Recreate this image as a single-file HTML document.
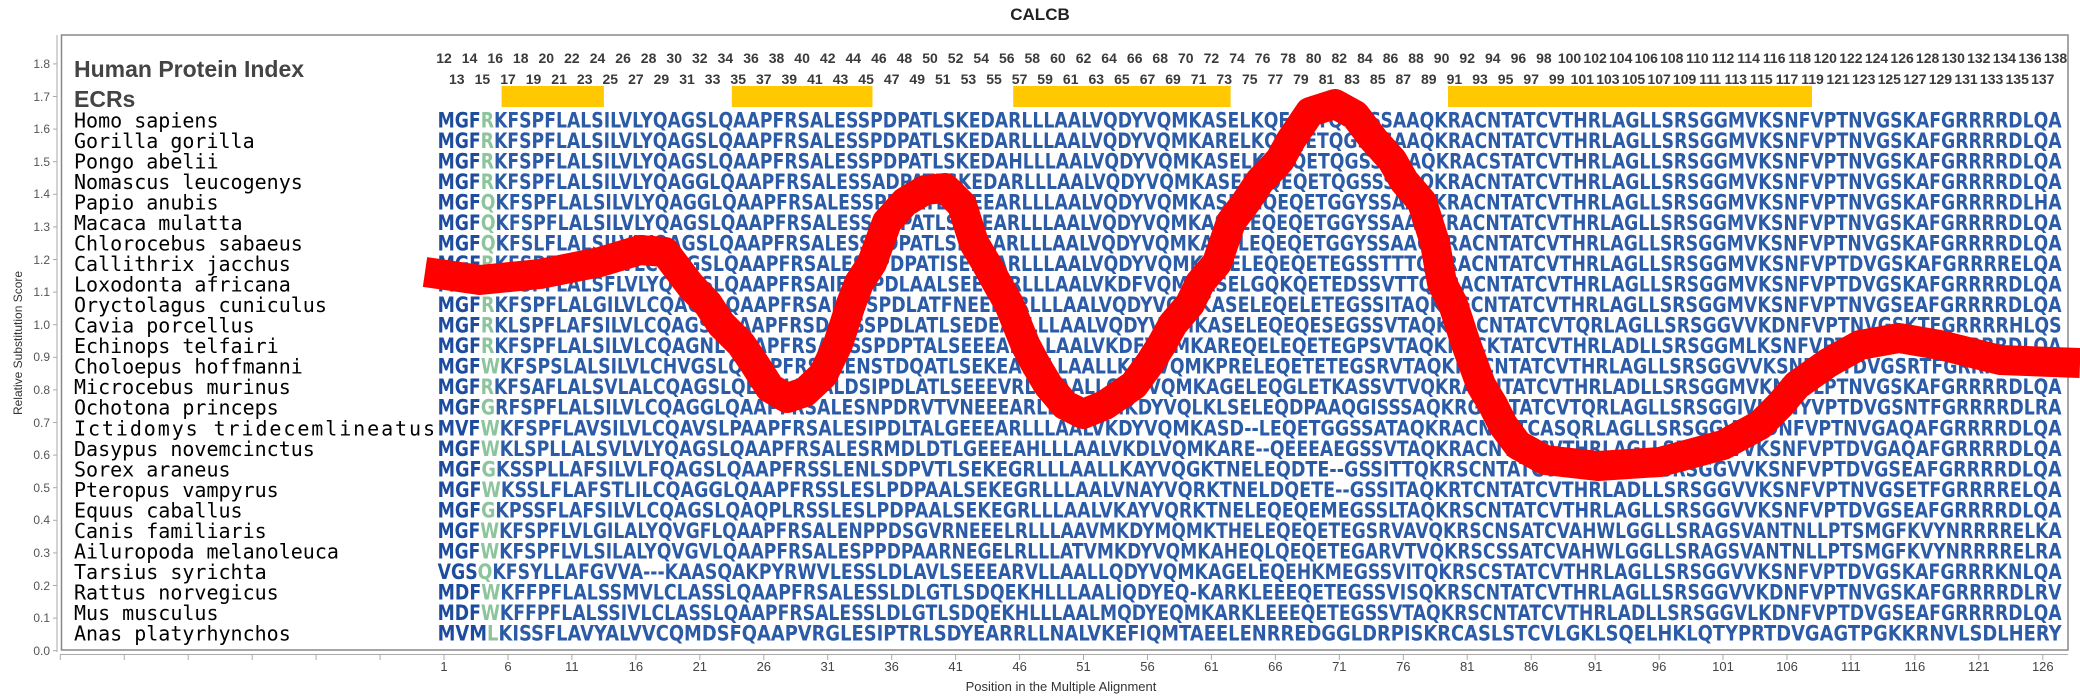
<!DOCTYPE html>
<html><head><meta charset="utf-8"><style>
html,body{margin:0;padding:0;background:#fff;}
svg{display:block;}
.sp{font-family:"DejaVu Sans Mono","Liberation Mono",monospace;font-size:20px;fill:#000;}
.sq{font-family:"DejaVu Sans","Liberation Sans",sans-serif;font-weight:bold;font-size:21px;fill:#2b5ba6;}
.g{fill:#8cc59c;}
.d{fill:#1d4c9e;}
.hi{font-family:"Liberation Sans",sans-serif;font-weight:bold;font-size:14px;fill:#3a3a3a;text-anchor:middle;}
.ax{font-family:"Liberation Sans","DejaVu Sans",sans-serif;font-size:12px;fill:#555;}
.xt{font-family:"Liberation Sans","DejaVu Sans",sans-serif;font-size:13px;fill:#444;text-anchor:middle;}
</style></head><body>
<svg width="2080" height="700" viewBox="0 0 2080 700" xmlns="http://www.w3.org/2000/svg">
<rect x="0" y="0" width="2080" height="700" fill="#fff"/>
<text x="1040" y="20" text-anchor="middle" style="font-family:'Liberation Sans',sans-serif;font-weight:bold;font-size:17px;fill:#222">CALCB</text>
<rect x="61.5" y="35" width="2006.5" height="615" fill="none" stroke="#888" stroke-width="1.5"/>
<line x1="57" y1="35" x2="57" y2="652" stroke="#aaa" stroke-width="1"/>
<line x1="60" y1="654.5" x2="2068" y2="654.5" stroke="#aaa" stroke-width="1"/>
<g stroke="#aaa" stroke-width="1">
<line x1="53" y1="650.7" x2="57" y2="650.7"/><line x1="53" y1="618.1" x2="57" y2="618.1"/><line x1="53" y1="585.5" x2="57" y2="585.5"/><line x1="53" y1="552.9" x2="57" y2="552.9"/><line x1="53" y1="520.3" x2="57" y2="520.3"/><line x1="53" y1="487.7" x2="57" y2="487.7"/><line x1="53" y1="455.1" x2="57" y2="455.1"/><line x1="53" y1="422.5" x2="57" y2="422.5"/><line x1="53" y1="389.9" x2="57" y2="389.9"/><line x1="53" y1="357.3" x2="57" y2="357.3"/><line x1="53" y1="324.7" x2="57" y2="324.7"/><line x1="53" y1="292.1" x2="57" y2="292.1"/><line x1="53" y1="259.5" x2="57" y2="259.5"/><line x1="53" y1="226.9" x2="57" y2="226.9"/><line x1="53" y1="194.3" x2="57" y2="194.3"/><line x1="53" y1="161.7" x2="57" y2="161.7"/><line x1="53" y1="129.1" x2="57" y2="129.1"/><line x1="53" y1="96.5" x2="57" y2="96.5"/><line x1="53" y1="63.9" x2="57" y2="63.9"/>
</g>
<g class="ax" text-anchor="end">
<text x="50" y="655">0.0</text><text x="50" y="622">0.1</text><text x="50" y="590">0.2</text><text x="50" y="557">0.3</text><text x="50" y="524">0.4</text><text x="50" y="492">0.5</text><text x="50" y="459">0.6</text><text x="50" y="427">0.7</text><text x="50" y="394">0.8</text><text x="50" y="361">0.9</text><text x="50" y="329">1.0</text><text x="50" y="296">1.1</text><text x="50" y="264">1.2</text><text x="50" y="231">1.3</text><text x="50" y="198">1.4</text><text x="50" y="166">1.5</text><text x="50" y="133">1.6</text><text x="50" y="101">1.7</text><text x="50" y="68">1.8</text>
</g>
<text transform="translate(22,343) rotate(-90)" class="ax" text-anchor="middle" style="fill:#333">Relative Substitution Score</text>
<g stroke="#aaa" stroke-width="1">
<line x1="60.3" y1="655" x2="60.3" y2="660"/><line x1="124.3" y1="655" x2="124.3" y2="660"/><line x1="188.2" y1="655" x2="188.2" y2="660"/><line x1="252.2" y1="655" x2="252.2" y2="660"/><line x1="316.1" y1="655" x2="316.1" y2="660"/><line x1="380.1" y1="655" x2="380.1" y2="660"/>
<line x1="444" y1="655" x2="444" y2="660"/><line x1="508" y1="655" x2="508" y2="660"/><line x1="571.9" y1="655" x2="571.9" y2="660"/><line x1="635.9" y1="655" x2="635.9" y2="660"/><line x1="699.8" y1="655" x2="699.8" y2="660"/><line x1="763.8" y1="655" x2="763.8" y2="660"/><line x1="827.7" y1="655" x2="827.7" y2="660"/><line x1="891.7" y1="655" x2="891.7" y2="660"/><line x1="955.6" y1="655" x2="955.6" y2="660"/><line x1="1019.6" y1="655" x2="1019.6" y2="660"/><line x1="1083.5" y1="655" x2="1083.5" y2="660"/><line x1="1147.5" y1="655" x2="1147.5" y2="660"/><line x1="1211.4" y1="655" x2="1211.4" y2="660"/><line x1="1275.4" y1="655" x2="1275.4" y2="660"/><line x1="1339.3" y1="655" x2="1339.3" y2="660"/><line x1="1403.3" y1="655" x2="1403.3" y2="660"/><line x1="1467.2" y1="655" x2="1467.2" y2="660"/><line x1="1531.2" y1="655" x2="1531.2" y2="660"/><line x1="1595.1" y1="655" x2="1595.1" y2="660"/><line x1="1659.1" y1="655" x2="1659.1" y2="660"/><line x1="1723" y1="655" x2="1723" y2="660"/><line x1="1787" y1="655" x2="1787" y2="660"/><line x1="1850.9" y1="655" x2="1850.9" y2="660"/><line x1="1914.9" y1="655" x2="1914.9" y2="660"/><line x1="1978.8" y1="655" x2="1978.8" y2="660"/><line x1="2042.8" y1="655" x2="2042.8" y2="660"/>
</g>
<g class="xt">
<text x="444" y="671">1</text><text x="508" y="671">6</text><text x="571.9" y="671">11</text><text x="635.9" y="671">16</text><text x="699.8" y="671">21</text><text x="763.8" y="671">26</text><text x="827.7" y="671">31</text><text x="891.7" y="671">36</text><text x="955.6" y="671">41</text><text x="1019.6" y="671">46</text><text x="1083.5" y="671">51</text><text x="1147.5" y="671">56</text><text x="1211.4" y="671">61</text><text x="1275.4" y="671">66</text><text x="1339.3" y="671">71</text><text x="1403.3" y="671">76</text><text x="1467.2" y="671">81</text><text x="1531.2" y="671">86</text><text x="1595.1" y="671">91</text><text x="1659.1" y="671">96</text><text x="1723" y="671">101</text><text x="1787" y="671">106</text><text x="1850.9" y="671">111</text><text x="1914.9" y="671">116</text><text x="1978.8" y="671">121</text><text x="2042.8" y="671">126</text>
</g>
<text x="1061" y="691" class="ax" text-anchor="middle" style="font-size:13px;fill:#333">Position in the Multiple Alignment</text>
<text x="74" y="77" style="font-family:'Liberation Sans',sans-serif;font-weight:bold;font-size:23px;fill:#444">Human Protein Index</text>
<text x="74" y="107" style="font-family:'Liberation Sans',sans-serif;font-weight:bold;font-size:23px;fill:#444">ECRs</text>
<g class="hi">
<text x="444" y="63">12</text><text x="469.6" y="63">14</text><text x="495.2" y="63">16</text><text x="520.7" y="63">18</text><text x="546.3" y="63">20</text><text x="571.9" y="63">22</text><text x="597.5" y="63">24</text><text x="623.1" y="63">26</text><text x="648.6" y="63">28</text><text x="674.2" y="63">30</text><text x="699.8" y="63">32</text><text x="725.4" y="63">34</text><text x="751" y="63">36</text><text x="776.5" y="63">38</text><text x="802.1" y="63">40</text><text x="827.7" y="63">42</text><text x="853.3" y="63">44</text><text x="878.9" y="63">46</text><text x="904.4" y="63">48</text><text x="930" y="63">50</text><text x="955.6" y="63">52</text><text x="981.2" y="63">54</text><text x="1006.8" y="63">56</text><text x="1032.3" y="63">58</text><text x="1057.9" y="63">60</text><text x="1083.5" y="63">62</text><text x="1109.1" y="63">64</text><text x="1134.7" y="63">66</text><text x="1160.2" y="63">68</text><text x="1185.8" y="63">70</text><text x="1211.4" y="63">72</text><text x="1237" y="63">74</text><text x="1262.6" y="63">76</text><text x="1288.1" y="63">78</text><text x="1313.7" y="63">80</text><text x="1339.3" y="63">82</text><text x="1364.9" y="63">84</text><text x="1390.5" y="63">86</text><text x="1416" y="63">88</text><text x="1441.6" y="63">90</text><text x="1467.2" y="63">92</text><text x="1492.8" y="63">94</text><text x="1518.4" y="63">96</text><text x="1543.9" y="63">98</text><text x="1569.5" y="63">100</text><text x="1595.1" y="63">102</text><text x="1620.7" y="63">104</text><text x="1646.3" y="63">106</text><text x="1671.8" y="63">108</text><text x="1697.4" y="63">110</text><text x="1723" y="63">112</text><text x="1748.6" y="63">114</text><text x="1774.2" y="63">116</text><text x="1799.7" y="63">118</text><text x="1825.3" y="63">120</text><text x="1850.9" y="63">122</text><text x="1876.5" y="63">124</text><text x="1902.1" y="63">126</text><text x="1927.6" y="63">128</text><text x="1953.2" y="63">130</text><text x="1978.8" y="63">132</text><text x="2004.4" y="63">134</text><text x="2030" y="63">136</text><text x="2055.5" y="63">138</text>
<text x="456.8" y="84">13</text><text x="482.4" y="84">15</text><text x="508" y="84">17</text><text x="533.5" y="84">19</text><text x="559.1" y="84">21</text><text x="584.7" y="84">23</text><text x="610.3" y="84">25</text><text x="635.9" y="84">27</text><text x="661.4" y="84">29</text><text x="687" y="84">31</text><text x="712.6" y="84">33</text><text x="738.2" y="84">35</text><text x="763.8" y="84">37</text><text x="789.3" y="84">39</text><text x="814.9" y="84">41</text><text x="840.5" y="84">43</text><text x="866.1" y="84">45</text><text x="891.7" y="84">47</text><text x="917.2" y="84">49</text><text x="942.8" y="84">51</text><text x="968.4" y="84">53</text><text x="994" y="84">55</text><text x="1019.6" y="84">57</text><text x="1045.1" y="84">59</text><text x="1070.7" y="84">61</text><text x="1096.3" y="84">63</text><text x="1121.9" y="84">65</text><text x="1147.5" y="84">67</text><text x="1173" y="84">69</text><text x="1198.6" y="84">71</text><text x="1224.2" y="84">73</text><text x="1249.8" y="84">75</text><text x="1275.4" y="84">77</text><text x="1300.9" y="84">79</text><text x="1326.5" y="84">81</text><text x="1352.1" y="84">83</text><text x="1377.7" y="84">85</text><text x="1403.3" y="84">87</text><text x="1428.8" y="84">89</text><text x="1454.4" y="84">91</text><text x="1480" y="84">93</text><text x="1505.6" y="84">95</text><text x="1531.2" y="84">97</text><text x="1556.7" y="84">99</text><text x="1582.3" y="84">101</text><text x="1607.9" y="84">103</text><text x="1633.5" y="84">105</text><text x="1659.1" y="84">107</text><text x="1684.6" y="84">109</text><text x="1710.2" y="84">111</text><text x="1735.8" y="84">113</text><text x="1761.4" y="84">115</text><text x="1787" y="84">117</text><text x="1812.5" y="84">119</text><text x="1838.1" y="84">121</text><text x="1863.7" y="84">123</text><text x="1889.3" y="84">125</text><text x="1914.9" y="84">127</text><text x="1940.4" y="84">129</text><text x="1966" y="84">131</text><text x="1991.6" y="84">133</text><text x="2017.2" y="84">135</text><text x="2042.8" y="84">137</text>
</g>
<g fill="#ffc800">
<rect x="501.6" y="86" width="102.3" height="21"/>
<rect x="731.8" y="86" width="140.7" height="21"/>
<rect x="1013.2" y="86" width="217.4" height="21"/>
<rect x="1448" y="86" width="364" height="21"/>
</g>
<g class="sp">
<text x="74" y="127.3">Homo sapiens</text>
<text x="74" y="147.8">Gorilla gorilla</text>
<text x="74" y="168.4">Pongo abelii</text>
<text x="74" y="188.9">Nomascus leucogenys</text>
<text x="74" y="209.4">Papio anubis</text>
<text x="74" y="230">Macaca mulatta</text>
<text x="74" y="250.5">Chlorocebus sabaeus</text>
<text x="74" y="271">Callithrix jacchus</text>
<text x="74" y="291.5">Loxodonta africana</text>
<text x="74" y="312.1">Oryctolagus cuniculus</text>
<text x="74" y="332.6">Cavia porcellus</text>
<text x="74" y="353.1">Echinops telfairi</text>
<text x="74" y="373.7">Choloepus hoffmanni</text>
<text x="74" y="394.2">Microcebus murinus</text>
<text x="74" y="414.7">Ochotona princeps</text>
<text x="74" y="435.3" textLength="361" lengthAdjust="spacing">Ictidomys tridecemlineatus</text>
<text x="74" y="455.8">Dasypus novemcinctus</text>
<text x="74" y="476.3">Sorex araneus</text>
<text x="74" y="496.8">Pteropus vampyrus</text>
<text x="74" y="517.4">Equus caballus</text>
<text x="74" y="537.9">Canis familiaris</text>
<text x="74" y="558.4">Ailuropoda melanoleuca</text>
<text x="74" y="579">Tarsius syrichta</text>
<text x="74" y="599.5">Rattus norvegicus</text>
<text x="74" y="620">Mus musculus</text>
<text x="74" y="640.6">Anas platyrhynchos</text>
</g>
<g class="sq">
<text x="437.6" y="127.3" textLength="1624" lengthAdjust="spacingAndGlyphs"><tspan class="d">MGF</tspan><tspan class="g">R</tspan>KFSPFLALSILVLYQAGSLQAAPFRSALESSPDPATLSKEDARLLLAALVQDYVQMKASELKQEQETQGSSSAAQKRACNTATCVTHRLAGLLSRSGGMVKSNFVPTNVGSKAFGRRRRDLQA</text>
<text x="437.6" y="147.8" textLength="1624" lengthAdjust="spacingAndGlyphs"><tspan class="d">MGF</tspan><tspan class="g">R</tspan>KFSPFLALSILVLYQAGSLQAAPFRSALESSPDPATLSKEDARLLLAALVQDYVQMKARELKQEQETQGSSSAAQKRACNTATCVTHRLAGLLSRSGGMVKSNFVPTNVGSKAFGRRRRDLQA</text>
<text x="437.6" y="168.4" textLength="1624" lengthAdjust="spacingAndGlyphs"><tspan class="d">MGF</tspan><tspan class="g">R</tspan>KFSPFLALSILVLYQAGSLQAAPFRSALESSPDPATLSKEDAHLLLAALVQDYVQMKASELKQEQETQGSSSAAQKRACSTATCVTHRLAGLLSRSGGMVKSNFVPTNVGSKAFGRRRRDLQA</text>
<text x="437.6" y="188.9" textLength="1624" lengthAdjust="spacingAndGlyphs"><tspan class="d">MGF</tspan><tspan class="g">R</tspan>KFSPFLALSILVLYQAGGLQAAPFRSALESSADPATLSKEDARLLLAALVQDYVQMKASELKQEQETQGSSSTAQKRACNTATCVTHRLAGLLSRSGGMVKSNFVPTNVGSKAFGRRRRDLQA</text>
<text x="437.6" y="209.4" textLength="1624" lengthAdjust="spacingAndGlyphs"><tspan class="d">MGF</tspan><tspan class="g">Q</tspan>KFSPFLALSILVLYQAGGLQAAPFRSALESSPDPATLSEEEARLLLAALVQDYVQMKASELEQEQETGGYSSAAQKRACNTATCVTHRLAGLLSRSGGMVKSNFVPTNVGSKAFGRRRRDLHA</text>
<text x="437.6" y="230" textLength="1624" lengthAdjust="spacingAndGlyphs"><tspan class="d">MGF</tspan><tspan class="g">Q</tspan>KFSPFLALSILVLYQAGSLQAAPFRSALESSPDPATLSEEEARLLLAALVQDYVQMKASELEQEQETGGYSSAAQKRACNTATCVTHRLAGLLSRSGGMVKSNFVPTNVGSKAFGRRRRDLQA</text>
<text x="437.6" y="250.5" textLength="1624" lengthAdjust="spacingAndGlyphs"><tspan class="d">MGF</tspan><tspan class="g">Q</tspan>KFSLFLALSILVLYQAGSLQAAPFRSALESSPDPATLSEEEARLLLAALVQDYVQMKASELEQEQETGGYSSAAQKRACNTATCVTHRLAGLLSRSGGMVKSNFVPTNVGSKAFGRRRRDLQA</text>
<text x="437.6" y="271" textLength="1624" lengthAdjust="spacingAndGlyphs"><tspan class="d">MGF</tspan><tspan class="g">R</tspan>KFSPFLALSILVLCQAGSLQAAPFRSALESSPDPATISEEEARLLLAALVQDYVQMKASELEQEQETEGSSTTTQKRACNTATCVTHRLAGLLSRSGGMVKSNFVPTDVGSKAFGRRRRELQA</text>
<text x="437.6" y="291.5" textLength="1624" lengthAdjust="spacingAndGlyphs"><tspan class="d">MGF</tspan><tspan class="g">R</tspan>KFSPFLALSFLVLYQVGSLQAAPFRSAIESSPDLAALSEEEARLLLAALVKDFVQMKASELGQKQETEDSSVTTQKRACNTATCVTHRLAGLLSRSGGMVKSNFVPTDVGSKAFGRRRRDLQA</text>
<text x="437.6" y="312.1" textLength="1624" lengthAdjust="spacingAndGlyphs"><tspan class="d">MGF</tspan><tspan class="g">R</tspan>KFSPFLALGILVLCQAGSLQAAPFRSALESSPDLATFNEEEARLLLAALVQDYVQMKASELEQELETEGSSITAQKRGCNTATCVTHRLAGLLSRSGGMVKSNFVPTNVGSEAFGRRRRDLQA</text>
<text x="437.6" y="332.6" textLength="1624" lengthAdjust="spacingAndGlyphs"><tspan class="d">MGF</tspan><tspan class="g">R</tspan>KLSPFLAFSILVLCQAGSFQAAPFRSDLESSPDLATLSEDEARLLLAALVQDYVQMKASELEQEQESEGSSVTAQKRACNTATCVTQRLAGLLSRSGGVVKDNFVPTNVGSKTFGRRRRHLQS</text>
<text x="437.6" y="353.1" textLength="1624" lengthAdjust="spacingAndGlyphs"><tspan class="d">MGF</tspan><tspan class="g">R</tspan>KFSPFLALSILVLCQAGNLQAAPFRSAIESSPDPTALSEEEARLLLAALVKDFVQMKAREQELEQETEGPSVTAQKRACKTATCVTHRLADLLSRSGGMLKSNFVPTDVGSKAFGRRRRDLQA</text>
<text x="437.6" y="373.7" textLength="1624" lengthAdjust="spacingAndGlyphs"><tspan class="d">MGF</tspan><tspan class="g">W</tspan>KFSPSLALSILVLCHVGSLQAAPFRSALENSTDQATLSEKEARLLLAALLKDFVQMKPRELEQETETEGSRVTAQKRACNTATCVTHRLAGLLSRSGGVVKSNFVPTDVGSRTFGRRRRELQA</text>
<text x="437.6" y="394.2" textLength="1624" lengthAdjust="spacingAndGlyphs"><tspan class="d">MGF</tspan><tspan class="g">R</tspan>KFSAFLALSVLALCQAGSLQEAPLRSALDSIPDLATLSEEEVRLLLAALLQNYVQMKAGELEQGLETKASSVTVQKRACNTATCVTHRLADLLSRSGGMVKNNFLPTNVGSKAFGRRRRDLQA</text>
<text x="437.6" y="414.7" textLength="1624" lengthAdjust="spacingAndGlyphs"><tspan class="d">MGF</tspan><tspan class="g">G</tspan>RFSPFLALSILVLCQAGGLQAAPFRSALESNPDRVTVNEEEARLLLAALMKDYVQLKLSELEQDPAAQGISSSAQKRGCNTATCVTQRLAGLLSRSGGIVKGNYVPTDVGSNTFGRRRRDLRA</text>
<text x="437.6" y="435.3" textLength="1624" lengthAdjust="spacingAndGlyphs"><tspan class="d">MVF</tspan><tspan class="g">W</tspan>KFSPFLAVSILVLCQAVSLPAAPFRSALESIPDLTALGEEEARLLLAALVKDYVQMKASD--LEQETGGSSATAQKRACNTATCASQRLAGLLSRSGGVVKDNFVPTNVGAQAFGRRRRDLQA</text>
<text x="437.6" y="455.8" textLength="1624" lengthAdjust="spacingAndGlyphs"><tspan class="d">MGF</tspan><tspan class="g">W</tspan>KLSPLLALSVLVLYQAGSLQAAPFRSALESRMDLDTLGEEEAHLLLAALVKDLVQMKARE--QEEEAEGSSVTAQKRACNTATCVTHRLAGLLSRSGGVVKSNFVPTDVGAQAFGRRRRDLQA</text>
<text x="437.6" y="476.3" textLength="1624" lengthAdjust="spacingAndGlyphs"><tspan class="d">MGF</tspan><tspan class="g">G</tspan>KSSPLLAFSILVLFQAGSLQAAPFRSSLENLSDPVTLSEKEGRLLLAALLKAYVQGKTNELEQDTE--GSSITTQKRSCNTATCVTHRLAGLLSRSGGVVKSNFVPTDVGSEAFGRRRRDLQA</text>
<text x="437.6" y="496.8" textLength="1624" lengthAdjust="spacingAndGlyphs"><tspan class="d">MGF</tspan><tspan class="g">W</tspan>KSSLFLAFSTLILCQAGGLQAAPFRSSLESLPDPAALSEKEGRLLLAALVNAYVQRKTNELDQETE--GSSITAQKRTCNTATCVTHRLADLLSRSGGVVKSNFVPTNVGSETFGRRRRELQA</text>
<text x="437.6" y="517.4" textLength="1624" lengthAdjust="spacingAndGlyphs"><tspan class="d">MGF</tspan><tspan class="g">G</tspan>KPSSFLAFSILVLCQAGSLQAQPLRSSLESLPDPAALSEKEGRLLLAALVKAYVQRKTNELEQEQEMEGSSLTAQKRSCNTATCVTHRLAGLLSRSGGVVKSNFVPTDVGSEAFGRRRRDLQA</text>
<text x="437.6" y="537.9" textLength="1624" lengthAdjust="spacingAndGlyphs"><tspan class="d">MGF</tspan><tspan class="g">W</tspan>KFSPFLVLGILALYQVGFLQAAPFRSALENPPDSGVRNEEELRLLLAAVMKDYMQMKTHELEQEQETEGSRVAVQKRSCNSATCVAHWLGGLLSRAGSVANTNLLPTSMGFKVYNRRRRELKA</text>
<text x="437.6" y="558.4" textLength="1624" lengthAdjust="spacingAndGlyphs"><tspan class="d">MGF</tspan><tspan class="g">W</tspan>KFSPFLVLSILALYQVGVLQAAPFRSALESPPDPAARNEGELRLLLATVMKDYVQMKAHEQLQEQETEGARVTVQKRSCSSATCVAHWLGGLLSRAGSVANTNLLPTSMGFKVYNRRRRELRA</text>
<text x="437.6" y="579" textLength="1624" lengthAdjust="spacingAndGlyphs"><tspan class="d">VGS</tspan><tspan class="g">Q</tspan>KFSYLLAFGVVA---KAASQAKPYRWVLESSLDLAVLSEEEARVLLAALLQDYVQMKAGELEQEHKMEGSSVITQKRSCSTATCVTHRLAGLLSRSGGVVKSNFVPTDVGSKAFGRRRKNLQA</text>
<text x="437.6" y="599.5" textLength="1624" lengthAdjust="spacingAndGlyphs"><tspan class="d">MDF</tspan><tspan class="g">W</tspan>KFFPFLALSSMVLCLASSLQAAPFRSALESSLDLGTLSDQEKHLLLAALIQDYEQ-KARKLEEEQETEGSSVISQKRSCNTATCVTHRLAGLLSRSGGVVKDNFVPTNVGSKAFGRRRRDLRV</text>
<text x="437.6" y="620" textLength="1624" lengthAdjust="spacingAndGlyphs"><tspan class="d">MDF</tspan><tspan class="g">W</tspan>KFFPFLALSSIVLCLASSLQAAPFRSALESSLDLGTLSDQEKHLLLAALMQDYEQMKARKLEEEQETEGSSVTAQKRSCNTATCVTHRLADLLSRSGGVLKDNFVPTDVGSEAFGRRRRDLQA</text>
<text x="437.6" y="640.6" textLength="1624" lengthAdjust="spacingAndGlyphs"><tspan class="d">MVM</tspan><tspan class="g">L</tspan>KISSFLAVYALVVCQMDSFQAAPVRGLESIPTRLSDYEARRLLNALVKEFIQMTAEELENRREDGGLDRPISKRCASLSTCVLGKLSQELHKLQTYPRTDVGAGTPGKKRNVLSDLHERY</text>
</g>
<path fill="none" stroke="#ff0000" stroke-width="30" stroke-linejoin="round" stroke-linecap="butt"
d="M425,272 L480,280 L540,274 L600,262 L640,250 L665,252 L690,285 L708,304 L721,324 L741,344 L754,363 L770,388 L787,398 L805,392 L823,375 L838,344 L851,304 L859,283 L872,263 L887,222 L905,202 L925,190 L945,188 L962,205 L974,243 L986,263 L997,283 L1009,304 L1025,344 L1035,363 L1048,385 L1065,405 L1083,414 L1105,405 L1134,385 L1150,363 L1162,344 L1173,324 L1190,304 L1200,283 L1217,263 L1231,222 L1246,202 L1260,181 L1280,160 L1291,140 L1310,112 L1335,104 L1355,115 L1374,140 L1392,160 L1404,181 L1422,202 L1435,243 L1442,283 L1453,304 L1466,344 L1481,385 L1493,405 L1503,425 L1518,445 L1545,460 L1598,466 L1660,462 L1723,445 L1760,425 L1780,405 L1797,385 L1828,363 L1860,345 L1899,338 L1940,345 L2000,360 L2080,363"/>
</svg>
</body></html>
